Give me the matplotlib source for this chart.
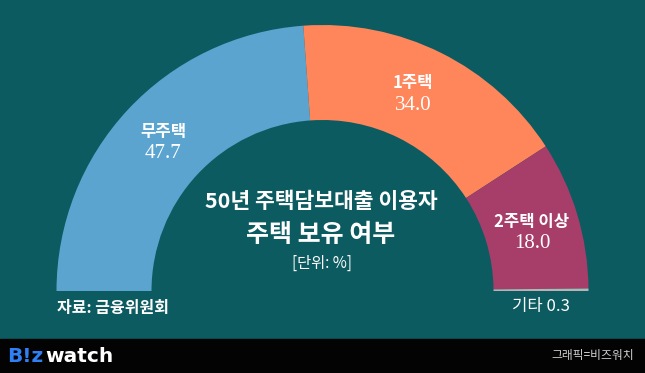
import matplotlib
matplotlib.use("Agg")
import matplotlib.pyplot as plt
from matplotlib.patches import Rectangle

plt.rcParams['font.family'] = ['Noto Sans CJK KR', 'DejaVu Sans']

categories = ['무주택', '1주택', '2주택 이상', '기타']
values = [47.7, 34.0, 18.0, 0.3]
value_labels = ['47.7', '34.0', '18.0', '0.3']
colors = ['#5ba4d0', '#ff865a', '#a73d69', '#b5b5b5']

title1 = '50년 주택담보대출 이용자'
title2 = '주택 보유 여부'
unit = '[단위: %]'
source = '자료: 금융위원회'
credit = '그래픽=비즈워치'

BG = '#0b5b61'
W, H = 645, 373
fig = plt.figure(figsize=(W / 100, H / 100), dpi=100, facecolor=BG)
ax = fig.add_axes([0, 0, 1, 1])
ax.set_facecolor(BG)

cx, cy = 322.5, H - 291
R, width = 266, 95
total = sum(values)
ax.pie(values + [total], colors=colors + ['none'], startangle=180,
       counterclock=False, radius=R, center=(cx, cy), frame=True,
       wedgeprops=dict(width=width, linewidth=0))
ax.set_xlim(0, W)
ax.set_ylim(0, H)
ax.set_aspect('equal')
ax.axis('off')

# footer bar
ax.add_patch(Rectangle((0, 0), W, H - 339, color='#030303', zorder=5))

serif = 'Liberation Serif'
# labels
lab_pos = [(163, 132, 153), (413, 83, 106), (532, 222, 244)]
for (x, y1, y2), name, v in zip(lab_pos, categories[:3], value_labels[:3]):
    ax.text(x, H - y1, name, color='white', fontsize=12, fontweight='bold',
            ha='center', va='center', zorder=6)
    ax.text(x, H - y2, v, color='white', fontsize=15, family=serif,
            ha='center', va='center', zorder=6)

ax.text(541, H - 307, categories[3] + ' ' + value_labels[3], color='white',
        fontsize=12, ha='center', va='center', zorder=6)

ax.text(57, H - 308, source, color='white', fontsize=11.5, fontweight='bold',
        ha='left', va='center', zorder=6)

ax.text(321, H - 202, title1, color='white', fontsize=15.5, fontweight='bold',
        ha='center', va='center', zorder=6)
ax.text(321, H - 235, title2, color='white', fontsize=18, fontweight='bold',
        ha='center', va='center', zorder=6)
ax.text(322, H - 263, unit, color='white', fontsize=11,
        ha='center', va='center', zorder=6)

# footer texts
ax.text(7, H - 357, 'B!z', color='#2f80f5', fontsize=14.5, fontweight='heavy',
        family=['DejaVu Sans'], ha='left', va='center', zorder=6)
ax.text(45, H - 357, 'watch', color='white', fontsize=14.5, fontweight='heavy',
        family=['DejaVu Sans'], ha='left', va='center', zorder=6)
ax.text(634, H - 356, credit, color='#cfcfcf', fontsize=8.5,
        ha='right', va='center', zorder=6)

fig.savefig('out.png', dpi=100, facecolor=BG)
